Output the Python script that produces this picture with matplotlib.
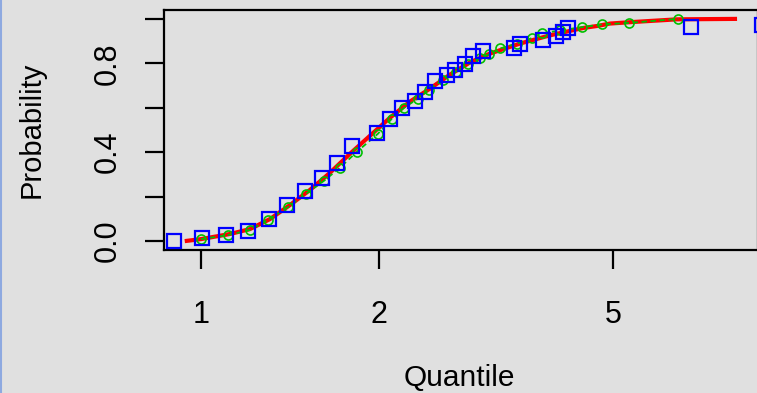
import matplotlib
matplotlib.use("Agg")
import matplotlib.pyplot as plt
from matplotlib.lines import Line2D
import numpy as np

plt.rcParams['font.family'] = ['Liberation Sans', 'DejaVu Sans']

# red curve (fitted cdf)
red_x = [0.939, 1.0, 1.12, 1.211, 1.309, 1.415, 1.530, 1.654, 1.789, 1.934, 2.091,
         2.261, 2.444, 2.642, 2.857, 3.089, 3.473, 3.904, 4.442, 4.691, 4.934,
         5.397, 6.410, 8.10]
red_p = [0.0, 0.009, 0.032, 0.054, 0.099, 0.162, 0.230, 0.307, 0.393, 0.474, 0.555,
         0.628, 0.686, 0.749, 0.804, 0.844, 0.889, 0.926, 0.959, 0.968, 0.979,
         0.986, 0.998, 1.0]

# green circles
grn_x = [1.0, 1.111, 1.211, 1.299, 1.404, 1.506, 1.616, 1.720, 1.838, 1.995, 2.107,
         2.209, 2.332, 2.435, 2.572, 2.705, 2.835, 2.971, 3.077, 3.213, 3.432,
         3.639, 3.784, 4.060, 4.424, 4.783, 5.315, 6.435]
grn_p = [0.009, 0.027, 0.05, 0.095, 0.153, 0.212, 0.271, 0.330, 0.402, 0.483, 0.551,
         0.600, 0.641, 0.682, 0.727, 0.763, 0.795, 0.822, 0.840, 0.867, 0.889,
         0.914, 0.935, 0.948, 0.963, 0.975, 0.982, 1.0]

# blue squares
blu_x = [0.900, 1.003, 1.105, 1.20, 1.306, 1.40, 1.502, 1.606, 1.702, 1.805, 1.99,
         2.09, 2.19, 2.305, 2.40, 2.49, 2.61, 2.695, 2.80, 2.887, 3.003, 3.393,
         3.473, 3.795, 3.998, 4.11, 4.19, 6.76, 8.93]
blu_p = [0.0, 0.015, 0.026, 0.045, 0.098, 0.161, 0.226, 0.283, 0.351, 0.426, 0.486,
         0.549, 0.599, 0.629, 0.67, 0.722, 0.749, 0.772, 0.798, 0.835, 0.855, 0.868,
         0.885, 0.903, 0.921, 0.940, 0.960, 0.963, 0.971]

xticks = [1, 2, 5]
yticks = [0.0, 0.2, 0.4, 0.6, 0.8, 1.0]
ylabs = ['0.0', '', '0.4', '', '0.8', '']

bg = '#e0e0e0'
W, H = 757, 393
fig = plt.figure(figsize=(W / 100, H / 100), dpi=100, facecolor=bg)
ax = fig.add_axes([164 / W, 1 - 250 / H, (758 - 164) / W, 240 / H])
ax.set_facecolor(bg)

ax.plot(red_x, red_p, color='#ff0000', lw=3, solid_capstyle='butt', zorder=2)
ax.plot(grn_x, grn_p, color='#00c000', lw=1.3, ls=(0, (3, 2)), marker='o',
        ms=6.5, mfc='none', mec='#00c000', mew=1.2, zorder=3)
ax.plot(blu_x, blu_p, ls='none', marker='s', ms=10.5, mfc='none',
        mec='#0000ff', mew=1.6, zorder=4)

ax.set_xscale('log')
ax.set_xlim(0.866, 8.79)
ax.set_ylim(-0.04, 1.04)
ax.set_xticks(xticks)
ax.set_xticklabels([str(t) for t in xticks])
ax.xaxis.set_minor_locator(matplotlib.ticker.NullLocator())
ax.set_yticks(yticks)
ax.set_yticklabels(ylabs, rotation=90, va='center')

for s in ax.spines.values():
    s.set_linewidth(1.6)
ax.tick_params(axis='both', length=14, width=1.6, labelsize=22)
ax.tick_params(axis='x', pad=22)
ax.tick_params(axis='y', pad=16)

fig.text(32 / W, 1 - 130 / H, 'Probability', rotation=90, ha='center',
         va='center', fontsize=21)
fig.text(459 / W, 0.003, 'Quantile', ha='center', va='bottom', fontsize=21.5)

fig.add_artist(Line2D([0.0008, 0.0008], [0, 1], color='#8ea9e0', lw=1.5,
                      transform=fig.transFigure))

fig.savefig('out.png', dpi=100, facecolor=bg)
